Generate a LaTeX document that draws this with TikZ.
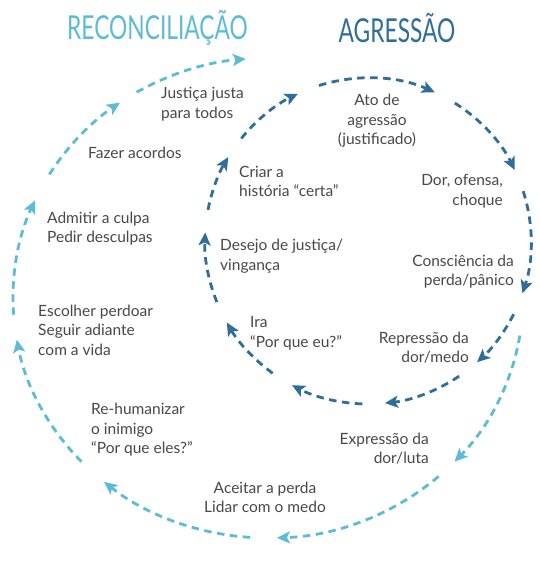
\documentclass[tikz,border=0pt]{standalone}
\usepackage{fontspec}
\setmainfont{Lato}
\usepackage{xcolor}
\usepackage{tikz}
\usetikzlibrary{arrows.meta, positioning, calc}

\definecolor{recblue}{HTML}{5CBCD5}
\definecolor{agrblue}{HTML}{2F6E9B}
\definecolor{txtgray}{HTML}{484848}

\begin{document}
\begin{tikzpicture}[
  x=1pt, y=1pt,
  lbl/.style={inner sep=0pt, text=txtgray, font=\fontsize{15.5}{19.5}\selectfont},
  lleft/.style={lbl, anchor=west, align=left},
  lright/.style={lbl, anchor=east, align=right},
  lmid/.style={lbl, anchor=center, align=center},
  title/.style={inner sep=0pt, font=\fontsize{33}{33}\selectfont},
  cyc/.style={line width=2.8pt, dash pattern=on 7.5pt off 5.5pt,
    -{Stealth[length=13pt, width=12pt, inset=3pt]}},
  agrarc/.style={cyc, draw=agrblue},
  recarc/.style={cyc, draw=recblue}
]
  \useasboundingbox (0,0) rectangle (540,568);
  \fill[white] (0,0) rectangle (540,568);

  % titles
  \node[title, text=recblue] (rectitle) at (157.5,540) {\scalebox{0.69}[1]{RECONCILIAÇÃO}};
  \node[title, text=agrblue] (agrtitle) at (397,540) {\scalebox{0.69}[1]{AGRESSÃO}};

  % cycle centres
  \coordinate (agr) at (368,327);
  \coordinate (rec) at (268,270);

  % inner cycle: agression
  \foreach \a/\b in {141/115.5, 107.5/65.8, 57.8/25.8, 17.8/-18.7, -26.7/-48,
                     -56/-84, -92/-117.8, -125.8/-150, -158/-183, -191/-211}
    \draw[agrarc] ($(agr)+(\a:163)$) arc[start angle=\a, end angle=\b, radius=163];

  % outer cycle: reconciliation
  \foreach \a/\b in {-9/-43, -48/-88, -94/-130, -137/-170, -176/-204,
                     -211/-234.5, -239/-265}
    \draw[recarc] ($(rec)+({255*cos(\a)},{240*sin(\a)})$)
      arc[start angle=\a, end angle=\b, x radius=255, y radius=240];

  % agression steps
  \node[lmid] (ato) at (377,447) {Ato de\\agressão\\(justificado)};
  \node[lright] (dor) at (503,377) {Dor, ofensa,\\choque};
  \node[lright] (consc) at (514,296.5) {Consciência da\\perda/pânico};
  \node[lright] (repr) at (469,220.5) {Repressão da\\dor/medo};
  \node[lleft] (ira) at (250,234.5) {Ira\\“Por que eu?”};
  \node[lleft] (desejo) at (220,312) {Desejo de justiça/\\vingança};
  \node[lleft] (criar) at (239,386.5) {Criar a\\história “certa”};

  % reconciliation steps
  \node[lright] (expr) at (429,119.5) {Expressão da\\dor/luta};
  \node[lmid] (perda) at (265,70.5) {Aceitar a perda\\Lidar com o medo};
  \node[lleft] (rehum) at (91,138) {Re-humanizar\\o inimigo\\“Por que eles?”};
  \node[lleft] (perdoar) at (38,238) {Escolher perdoar\\Seguir adiante\\com a vida};
  \node[lleft] (culpa) at (47,339.5) {Admitir a culpa\\Pedir desculpas};
  \node[lleft] (acordos) at (88,415) {Fazer acordos};
  \node[lleft] (justica) at (161,464) {Justiça justa\\para todos};
\end{tikzpicture}
\end{document}
